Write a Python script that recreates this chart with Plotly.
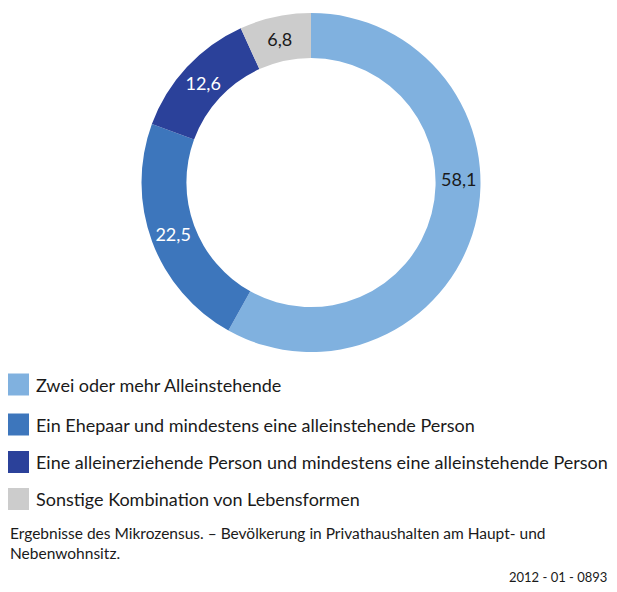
import plotly.graph_objects as go

categories = [
    "Zwei oder mehr Alleinstehende",
    "Ein Ehepaar und mindestens eine alleinstehende Person",
    "Eine alleinerziehende Person und mindestens eine alleinstehende Person",
    "Sonstige Kombination von Lebensformen",
]
values = [58.1, 22.5, 12.6, 6.8]
colors = ["#80b1df", "#3d76bc", "#2b419a", "#cccccc"]
label_colors = ["#1a1a1a", "#ffffff", "#ffffff", "#1a1a1a"]
footnote = "Ergebnisse des Mikrozensus. – Bevölkerung in Privathaushalten am Haupt- und<br>Nebenwohnsitz."
code = "2012 - 01 - 0893"

# page is 617x592, the html body adds an 8px margin on every side
OFF = 8
W, H = 617 - 2 * OFF, 592 - 2 * OFF
FONT = "Lato"


def px(x):
    return (x - OFF) / W


def py(y):
    return 1 - (y - OFF) / H


def fmt(v):
    return f"{v:.1f}".replace(".", ",")


texts = [fmt(v) for v in values]
# the largest slice's label is placed separately (as in the reference)
slice_texts = [""] + texts[1:]

fig = go.Figure(go.Pie(
    labels=categories,
    values=values,
    text=slice_texts,
    textinfo="text",
    textposition="inside",
    insidetextorientation="horizontal",
    textfont=dict(family=FONT, size=18, color=label_colors),
    marker=dict(colors=colors, line=dict(width=0)),
    hole=0.735,
    sort=False,
    direction="clockwise",
    rotation=0,
    showlegend=False,
    domain=dict(x=[px(141), px(481)], y=[py(352), py(13)]),
    hoverinfo="label+value",
))

shapes = []
annotations = [dict(text=texts[0], xref="paper", yref="paper",
                    x=px(458), y=py(179), xanchor="center", yanchor="middle",
                    showarrow=False, font=dict(family=FONT, size=18, color=label_colors[0]))]
row_centers = [384.5, 424.5, 462, 499]
for cat, col, yc in zip(categories, colors, row_centers):
    shapes.append(dict(type="rect", xref="paper", yref="paper",
                       x0=px(8), x1=px(29), y0=py(yc + 11), y1=py(yc - 11),
                       fillcolor=col, line=dict(width=0)))
    annotations.append(dict(text=cat, xref="paper", yref="paper",
                            x=px(34), y=py(yc), xanchor="left", yanchor="middle",
                            showarrow=False, font=dict(family=FONT, size=18, color="#1a1a1a")))

annotations.append(dict(text=footnote, xref="paper", yref="paper",
                        x=px(8), y=py(543), xanchor="left", yanchor="middle", align="left",
                        showarrow=False, font=dict(family=FONT, size=15.5, color="#1a1a1a")))
annotations.append(dict(text=code, xref="paper", yref="paper",
                        x=px(609), y=py(577), xanchor="right", yanchor="middle",
                        showarrow=False, font=dict(family=FONT, size=13, color="#1a1a1a")))

fig.update_layout(
    width=W, height=H,
    margin=dict(l=0, r=0, t=0, b=0),
    paper_bgcolor="white", plot_bgcolor="white",
    shapes=shapes, annotations=annotations,
    uniformtext=dict(minsize=18, mode="show"),
)

fig.write_html("out.html")
